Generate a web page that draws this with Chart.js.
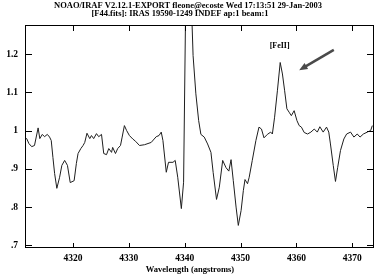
<!DOCTYPE html>
<html>
<head>
<meta charset="utf-8">
<script src="https://cdn.jsdelivr.net/npm/chart.js@4/dist/chart.umd.min.js"></script>
<style>
  html, body { margin: 0; padding: 0; background: #fff; }
  #wrap { width: 375px; height: 280px; }
</style>
</head>
<body>
<div id="wrap"><canvas id="spec"></canvas></div>
<script>

// spectrum: wavelength (angstroms) and normalised flux
const wavelengths = [
  4311.4, 4311.7, 4312.1, 4312.6, 4313.1, 4313.75, 4314.05, 4314.5, 4314.9, 4315.4,
  4315.8, 4316.1, 4316.4, 4316.7, 4317.1, 4317.6, 4318.0, 4318.5, 4319.0, 4319.5,
  4320.2, 4320.6, 4320.9, 4321.4, 4321.8, 4322.1, 4322.5, 4323.0, 4323.3, 4323.7,
  4324.2, 4324.6, 4325.1, 4325.5, 4326.0, 4326.4, 4326.9, 4327.1, 4327.6, 4328.0,
  4328.5, 4328.8, 4329.2, 4329.6, 4330.1, 4330.7, 4331.2, 4331.9, 4332.8, 4334.0,
  4334.9, 4335.4, 4335.8, 4336.1, 4336.7, 4337.1, 4337.9, 4338.3, 4338.75, 4339.4,
  4339.8, 4340.15, 4340.6, 4341.0, 4341.5, 4342.0, 4342.5, 4342.9, 4343.5, 4344.1,
  4344.7, 4345.1, 4345.7, 4346.2, 4346.8, 4347.4, 4347.9, 4348.3, 4348.7, 4349.2,
  4349.6, 4350.1, 4350.5, 4350.8, 4351.25, 4351.55, 4352.1, 4352.75, 4353.3, 4353.75,
  4354.2, 4354.8, 4355.4, 4355.7, 4356.1, 4356.6, 4357.1, 4357.5, 4357.9, 4358.3,
  4358.7, 4359.1, 4359.6, 4360.1, 4360.5, 4360.9, 4361.4, 4362.0, 4362.6, 4363.2,
  4363.75, 4364.2, 4364.8, 4365.4, 4365.8, 4366.1, 4366.6, 4367.0, 4367.4, 4367.9,
  4368.5, 4369.0, 4369.7, 4370.3, 4370.9, 4371.4, 4372.0, 4372.7, 4373.3, 4373.6
]

const flux = [
  0.980, 0.979, 0.966, 0.958, 0.961, 1.007, 0.979, 0.990, 0.984, 0.990,
  0.983, 0.974, 0.930, 0.888, 0.849, 0.878, 0.909, 0.922, 0.909, 0.864,
  0.869, 0.914, 0.940, 0.953, 0.961, 0.969, 0.993, 0.979, 0.987, 0.979,
  0.992, 0.984, 0.990, 0.940, 0.937, 0.953, 0.943, 0.956, 0.940, 0.953,
  0.961, 0.983, 1.013, 1.000, 0.987, 0.978, 0.972, 0.961, 0.963, 0.969,
  0.984, 0.987, 0.996, 0.974, 0.891, 0.917, 0.917, 0.922, 0.878, 0.796,
  0.865, 1.300, 1.450, 1.420, 1.196, 1.096, 1.026, 0.990, 0.983, 0.965,
  0.943, 0.890, 0.820, 0.852, 0.922, 0.903, 0.894, 0.924, 0.869, 0.800,
  0.752, 0.791, 0.843, 0.872, 0.861, 0.878, 0.922, 0.974, 1.009, 1.004,
  0.981, 0.990, 0.996, 0.991, 1.035, 1.104, 1.178, 1.148, 1.104, 1.057,
  1.048, 1.039, 1.052, 1.026, 1.013, 1.009, 0.995, 0.991, 0.996, 1.004,
  0.996, 1.010, 0.996, 1.009, 0.996, 0.965, 0.909, 0.867, 0.904, 0.948,
  0.978, 0.991, 0.996, 0.983, 0.991, 0.983, 0.991, 0.996, 1.000, 1.013
]

const titleLines = [
  'NOAO/IRAF V2.12.1-EXPORT fleone@ecoste Wed 17:13:51 29-Jan-2003',
  '[F44.fits]: IRAS 19590-1249 INDEF ap:1 beam:1'
]
const xLabel = 'Wavelength (angstroms)'
const featureLabel = '[FeII]'

const xRange = [ 4311.4, 4373.9 ]
const yRange = [ 0.693, 1.276 ]
const xStep = 10
const yStep = 0.1

// annotation anchors in data units
const labelAt = { x: 4357.0, y: 1.222 }
const arrowFrom = { x: 4366.7, y: 1.211 }
const arrowTo = { x: 4360.5, y: 1.158 }

const serif = '"Liberation Serif", "DejaVu Serif", serif'

const points = wavelengths.map( ( w, i ) => ( { x: w, y: flux[i] } ) )

// IRAF style box: frame, inward ticks on every side, header text, arrow
const irafFrame = {
  id: 'irafFrame',
  afterDraw( chart ) {
    const ctx = chart.ctx
    const a = chart.chartArea
    const xs = chart.scales.x
    const ys = chart.scales.y

    ctx.save()
    ctx.strokeStyle = '#000'
    ctx.lineWidth = 1
    ctx.strokeRect( a.left + 0.5, a.top + 0.5, a.right - a.left - 1, a.bottom - a.top - 1 )

    ctx.beginPath()
    xs.ticks.forEach( t => {
      const px = Math.round( xs.getPixelForValue( t.value ) ) + 0.5
      ctx.moveTo( px, a.bottom ); ctx.lineTo( px, a.bottom - 5 )
      ctx.moveTo( px, a.top ); ctx.lineTo( px, a.top + 6 )
    })
    ys.ticks.forEach( t => {
      const py = Math.round( ys.getPixelForValue( t.value ) ) + 0.5
      ctx.moveTo( a.left, py ); ctx.lineTo( a.left + 7, py )
      ctx.moveTo( a.right, py ); ctx.lineTo( a.right - 7, py )
    })
    ctx.stroke()

    ctx.fillStyle = '#000'
    ctx.textBaseline = 'middle'
    ctx.textAlign = 'center'

    // header
    ctx.font = 'bold 8.5px ' + serif
    ctx.fillText( titleLines[0], 188, 5.5 )
    ctx.fillText( titleLines[1], 180, 13.5 )

    // axis title
    ctx.font = 'bold 8.5px ' + serif
    ctx.fillText( xLabel, 190, 270 )

    // feature label
    ctx.font = 'bold 8px ' + serif
    ctx.fillText( featureLabel, xs.getPixelForValue( labelAt.x ), ys.getPixelForValue( labelAt.y ) )

    // arrow
    const x0 = xs.getPixelForValue( arrowFrom.x ), y0 = ys.getPixelForValue( arrowFrom.y )
    const x1 = xs.getPixelForValue( arrowTo.x ), y1 = ys.getPixelForValue( arrowTo.y )
    const ang = Math.atan2( y1 - y0, x1 - x0 )
    ctx.strokeStyle = '#4a4a4a'
    ctx.fillStyle = '#4a4a4a'
    ctx.lineWidth = 2.5
    ctx.beginPath()
    ctx.moveTo( x0, y0 )
    ctx.lineTo( x1 - 5 * Math.cos( ang ), y1 - 5 * Math.sin( ang ) )
    ctx.stroke()
    ctx.beginPath()
    ctx.moveTo( x1, y1 )
    ctx.lineTo( x1 - 9 * Math.cos( ang - 0.4 ), y1 - 9 * Math.sin( ang - 0.4 ) )
    ctx.lineTo( x1 - 9 * Math.cos( ang + 0.4 ), y1 - 9 * Math.sin( ang + 0.4 ) )
    ctx.closePath()
    ctx.fill()
    ctx.restore()
  }
}

const fmtY = v => {
  const s = ( Math.round( v * 10 ) / 10 ).toString()
  return s.replace( /^0\./, '.' )
}

new Chart( document.getElementById( 'spec' ), {
  type: 'line',
  data: {
    datasets: [{
      data: points,
      borderColor: '#1e1e1e',
      borderWidth: 1,
      pointRadius: 0,
      tension: 0,
      fill: false
    }]
  },
  options: {
    responsive: true,
    maintainAspectRatio: false,
    animation: false,
    layout: { padding: { top: 25, right: 1, left: 0, bottom: 0 } },
    plugins: {
      legend: { display: false },
      tooltip: { enabled: false },
      title: { display: false }
    },
    scales: {
      x: {
        type: 'linear',
        min: xRange[0],
        max: xRange[1],
        grid: { display: false, drawTicks: false },
        border: { display: false },
        ticks: {
          stepSize: xStep,
          includeBounds: false,
          color: '#000',
          padding: 5,
          maxRotation: 0,
          font: { family: serif, size: 9.5, weight: 'bold' },
          callback: v => v.toString()
        },
        afterFit: scale => { scale.height = 32 }
      },
      y: {
        min: yRange[0],
        max: yRange[1],
        grid: { display: false, drawTicks: false },
        border: { display: false },
        ticks: {
          stepSize: yStep,
          includeBounds: false,
          color: '#000',
          padding: 7,
          font: { family: serif, size: 9.5, weight: 'bold' },
          callback: fmtY
        },
        afterFit: scale => { scale.width = 25 }
      }
    }
  },
  plugins: [ irafFrame ]
})

</script>
</body>
</html>
